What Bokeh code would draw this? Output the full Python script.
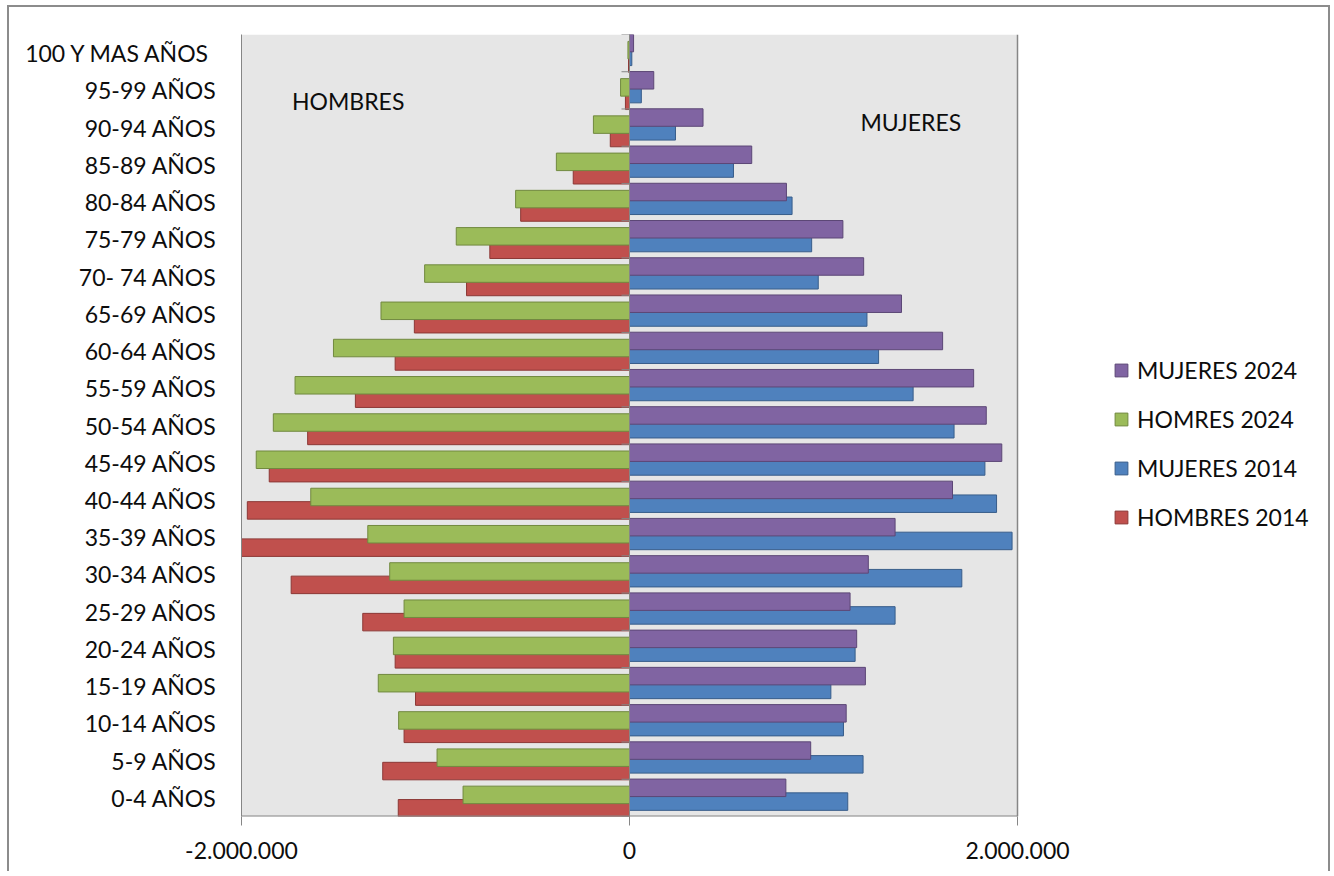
from bokeh.plotting import figure
from bokeh.models import (ColumnDataSource, Range1d, FixedTicker, Legend, LegendItem,
                          Label, BoxAnnotation)
from bokeh.transform import dodge
from bokeh.embed import file_html
from bokeh.resources import INLINE

# ---------------- data (bottom to top) ----------------
categories = ["0-4 AÑOS", "5-9 AÑOS", "10-14 AÑOS", "15-19 AÑOS", "20-24 AÑOS",
              "25-29 AÑOS", "30-34 AÑOS", "35-39 AÑOS", "40-44 AÑOS", "45-49 AÑOS",
              "50-54 AÑOS", "55-59 AÑOS", "60-64 AÑOS", "65-69 AÑOS", "70- 74 AÑOS",
              "75-79 AÑOS", "80-84 AÑOS", "85-89 AÑOS", "90-94 AÑOS", "95-99 AÑOS",
              "100  Y MAS AÑOS"]

mujeres_2024 = [806000, 934000, 1117000, 1216000, 1171000, 1137000, 1231000, 1369000,
                1665000, 1919000, 1839000, 1774000, 1614000, 1402000, 1207000, 1100000,
                809000, 630000, 379000, 125000, 21000]
mujeres_2014 = [1125000, 1204000, 1103000, 1038000, 1163000, 1369000, 1713000, 1972000,
                1892000, 1832000, 1673000, 1462000, 1284000, 1224000, 973000, 939000,
                838000, 536000, 237000, 61000, 12000]
hombres_2024 = [858000, 992000, 1190000, 1295000, 1217000, 1162000, 1236000, 1349000,
                1643000, 1924000, 1836000, 1724000, 1526000, 1281000, 1056000, 893000,
                587000, 377000, 186000, 46000, 8000]
hombres_2014 = [1192000, 1272000, 1162000, 1103000, 1208000, 1375000, 1744000, 2050000,
                1970000, 1857000, 1659000, 1413000, 1208000, 1109000, 840000, 720000,
                561000, 290000, 99000, 21000, 5000]

x_ticks = [-2000000, 0, 2000000]

# ---------------- styles / layout ----------------
FONT = "Lato"
FS = "23px"
TXT = "#0d0d0d"
AXIS = "#868686"
PLOT_BG = "#E6E6E6"
C_M24, L_M24 = "#8064A2", "#5C4776"
C_M14, L_M14 = "#4F81BD", "#385D8A"
C_H24, L_H24 = "#9BBB59", "#71893F"
C_H14, L_H14 = "#C0504D", "#8C3836"

W, H = 1323, 866
LEFT, RIGHT, TOP, BOTTOM = 232, 5, 27, 57
AXIS_PX = 776                      # pixel width of the -2M..2M plot area
frame_w = W - LEFT - RIGHT
x_lo, x_hi = x_ticks[0], x_ticks[-1]
x_end = x_lo + (x_hi - x_lo) * frame_w / AXIS_PX

n = len(categories)
idx = list(range(n))
src = ColumnDataSource(dict(
    y=idx,
    m24=mujeres_2024, m14=mujeres_2014,
    h24=[-v for v in hombres_2024], h14=[-v for v in hombres_2014],
))

p = figure(width=W, height=H, output_backend="svg", toolbar_location=None,
           x_range=Range1d(x_lo, x_end), y_range=Range1d(-0.5, n - 0.5),
           min_border_left=LEFT, min_border_right=RIGHT, min_border_top=TOP,
           min_border_bottom=BOTTOM)
p.styles = {"margin-left": "7px", "margin-top": "5px",
            "border-left": "2px solid #8c8c8c", "border-top": "2px solid #8c8c8c",
            "border-right": "2px solid #8c8c8c"}
p.background_fill_color = "white"
p.border_fill_color = "white"
p.outline_line_color = None
p.xgrid.visible = False
p.ygrid.visible = False

# grey plot area
p.add_layout(BoxAnnotation(left=x_lo, right=x_hi, fill_color=PLOT_BG, fill_alpha=1,
                           line_color=None, level="underlay"))

bh = 0.47
r_h14 = p.hbar(y=dodge("y", -0.28), left="h14", right=0, height=bh, source=src,
               fill_color=C_H14, line_color=L_H14, line_width=1)
r_h24 = p.hbar(y=dodge("y", 0.08), left="h24", right=0, height=bh, source=src,
               fill_color=C_H24, line_color=L_H24, line_width=1)
r_m14 = p.hbar(y=dodge("y", -0.10), left=0, right="m14", height=bh, source=src,
               fill_color=C_M14, line_color=L_M14, line_width=1)
r_m24 = p.hbar(y=dodge("y", 0.27), left=0, right="m24", height=bh, source=src,
               fill_color=C_M24, line_color=L_M24, line_width=1)

# vertical axis at zero with ticks on category boundaries
p.segment(x0=[0], y0=[-0.5], x1=[0], y1=[n - 0.5], line_color=AXIS, line_width=1)
tick_len = 8 * (x_hi - x_lo) / AXIS_PX
bounds = [i - 0.5 for i in range(n + 1)]
p.segment(x0=[-tick_len] * len(bounds), y0=bounds, x1=[0] * len(bounds), y1=bounds,
          line_color=AXIS, line_width=1)

# right border and bottom axis line of the plot area
p.segment(x0=[x_hi], y0=[-0.5], x1=[x_hi], y1=[n - 0.5], line_color=AXIS, line_width=1.5)
p.segment(x0=[x_lo], y0=[-0.5], x1=[x_hi], y1=[-0.5], line_color=AXIS, line_width=2)

# x axis (ticks + labels only)
p.xaxis.ticker = FixedTicker(ticks=x_ticks)
p.xaxis.major_label_overrides = {t: f"{t:,}".replace(",", ".") for t in x_ticks}
p.xaxis.axis_line_color = None
p.xaxis.major_tick_line_color = AXIS
p.xaxis.major_tick_out = 9
p.xaxis.major_tick_in = 0
p.xaxis.minor_tick_out = 0
p.xaxis.minor_tick_in = 0
p.xaxis.major_label_standoff = 16
p.xaxis.major_label_text_font = FONT
p.xaxis.major_label_text_font_size = FS
p.xaxis.major_label_text_color = TXT

# y axis (category labels)
p.yaxis.ticker = FixedTicker(ticks=idx)
p.yaxis.major_label_overrides = {i: c for i, c in zip(idx, categories)}
p.yaxis.axis_line_color = AXIS
p.yaxis.major_tick_out = 0
p.yaxis.major_tick_in = 0
p.yaxis.minor_tick_out = 0
p.yaxis.minor_tick_in = 0
p.yaxis.major_label_standoff = 25
p.yaxis.major_label_text_font = FONT
p.yaxis.major_label_text_font_size = FS
p.yaxis.major_label_text_color = TXT

# side labels
p.add_layout(Label(x=-1450000, y=18.72, text="HOMBRES", text_align="center",
                   text_baseline="middle", text_font=FONT, text_font_size=FS,
                   text_color=TXT))
p.add_layout(Label(x=1450000, y=18.16, text="MUJERES", text_align="center",
                   text_baseline="middle", text_font=FONT, text_font_size=FS,
                   text_color=TXT))

legend = Legend(items=[
    LegendItem(label="MUJERES 2024", renderers=[r_m24]),
    LegendItem(label="HOMRES 2024", renderers=[r_h24]),
    LegendItem(label="MUJERES 2014", renderers=[r_m14]),
    LegendItem(label="HOMBRES 2014", renderers=[r_h14]),
], location=(872, 284), border_line_color=None, background_fill_alpha=0,
    label_text_font=FONT, label_text_font_size=FS, label_text_color=TXT,
    glyph_width=16, glyph_height=16, label_standoff=8, spacing=19, padding=0,
    margin=0, label_height=30)
p.add_layout(legend, "center")

open("out.html", "w").write(file_html(p, INLINE))
